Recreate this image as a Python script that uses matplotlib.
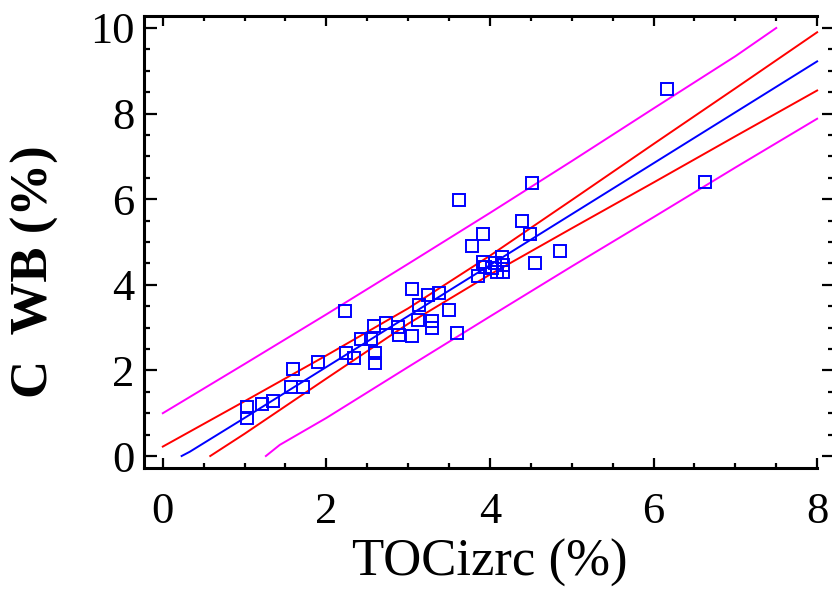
import matplotlib
matplotlib.use("Agg")
import matplotlib.pyplot as plt
from matplotlib.ticker import MultipleLocator

# ---- data points (TOCizrc %, C WB %) ----
x_pts = [1.03, 1.03, 1.21, 1.35, 1.57, 1.59, 1.71, 1.90,
         2.23, 2.24, 2.34, 2.42, 2.55, 2.58, 2.59, 2.59, 2.73,
         2.87, 2.89, 3.05, 3.05, 3.13, 3.12, 3.24, 3.29, 3.29, 3.38,
         3.50, 3.60, 3.62, 3.78, 3.91, 3.85, 3.91, 3.94, 4.02, 4.08,
         4.16, 4.16, 4.06, 4.15, 4.39, 4.49, 4.51, 4.55, 4.86,
         6.17, 6.63]
y_pts = [1.14, 0.89, 1.21, 1.29, 1.61, 2.03, 1.61, 2.19,
         3.39, 2.41, 2.29, 2.73, 2.73, 3.04, 2.41, 2.18, 3.11,
         3.01, 2.83, 2.80, 3.90, 3.53, 3.18, 3.76, 3.15, 3.00, 3.80,
         3.41, 2.87, 5.98, 4.91, 5.19, 4.21, 4.54, 4.42, 4.39, 4.30,
         4.30, 4.46, 4.50, 4.66, 5.49, 5.19, 6.38, 4.51, 4.79,
         8.57, 6.40]

# ---- fitted line ----
x_fit = [0.23, 0.33, 1, 2, 3, 4, 5, 6, 7, 8]
y_fit = [0.00, 0.10, 0.89, 2.08, 3.27, 4.46, 5.65, 6.84, 8.03, 9.22]

# ---- confidence band (red) ----
x_cu = [0, 1, 2, 3, 4, 5, 6, 7, 8]
y_cu = [0.22, 1.28, 2.35, 3.45, 4.68, 5.98, 7.29, 8.59, 9.90]
x_cl = [0.58, 1, 2, 3, 4, 5, 6, 7, 8]
y_cl = [0.00, 0.52, 1.81, 3.09, 4.24, 5.32, 6.39, 7.47, 8.54]

# ---- prediction band (magenta) ----
x_pu = [0, 1, 2, 3, 4, 5, 6, 7, 7.5]
y_pu = [1.00, 2.15, 3.31, 4.49, 5.68, 6.89, 8.12, 9.34, 10.00]
x_pl = [1.26, 1.43, 2, 3, 4, 5, 6, 7, 8]
y_pl = [0.00, 0.26, 0.89, 2.08, 3.26, 4.43, 5.58, 6.74, 7.88]

x_ticks = [0, 2, 4, 6, 8]
y_ticks = [0, 2, 4, 6, 8, 10]

plt.rcParams['font.family'] = ['Liberation Serif', 'DejaVu Serif']

W, H = 832, 592
fig = plt.figure(figsize=(W / 100, H / 100), dpi=100)
ax = fig.add_axes([144 / W, (H - 468) / H, (833.5 - 144) / W, (468 - 16) / H])

ax.plot(x_pu, y_pu, color='#ff00ff', lw=1.4, zorder=2)
ax.plot(x_pl, y_pl, color='#ff00ff', lw=1.4, zorder=2)
ax.plot(x_cu, y_cu, color='#ff0000', lw=1.4, zorder=2)
ax.plot(x_cl, y_cl, color='#ff0000', lw=1.4, zorder=2)
ax.plot(x_fit, y_fit, color='#0000ff', lw=1.4, zorder=3)
ax.plot(x_pts, y_pts, linestyle='none', marker='s', markersize=8.5,
        markerfacecolor='none', markeredgecolor='#0000ff', markeredgewidth=1.4,
        zorder=4)

ax.set_xlim(-0.23, 8.2)
ax.set_ylim(-0.28, 10.28)
ax.set_xticks(x_ticks)
ax.set_yticks(y_ticks)
ax.xaxis.set_minor_locator(MultipleLocator(0.5))
ax.yaxis.set_minor_locator(MultipleLocator(0.5))

for s in ['left', 'bottom', 'top']:
    ax.spines[s].set_linewidth(2.2)
ax.spines['right'].set_visible(False)
ax.spines['top'].set_bounds(-0.23, 8.0)
ax.spines['bottom'].set_bounds(-0.23, 8.0)

ax.tick_params(axis='both', which='both', direction='in', top=True, right=True,
               width=1.6, colors='black')
ax.tick_params(axis='x', which='major', length=7, pad=17, labelsize=32)
ax.tick_params(axis='x', which='minor', length=3.5)
ax.tick_params(axis='y', which='major', length=9, pad=7, labelsize=32)
ax.tick_params(axis='y', which='minor', length=4.5)

fig.text(490 / W, 1 - 563 / H, 'TOCizrc (%)', fontsize=38,
         ha='center', va='center')
fig.text(35 / W, 1 - 272 / H, 'C  WB (%)', fontsize=38, fontweight='bold',
         rotation=90, ha='center', va='center')

fig.savefig('out.png', dpi=100)
